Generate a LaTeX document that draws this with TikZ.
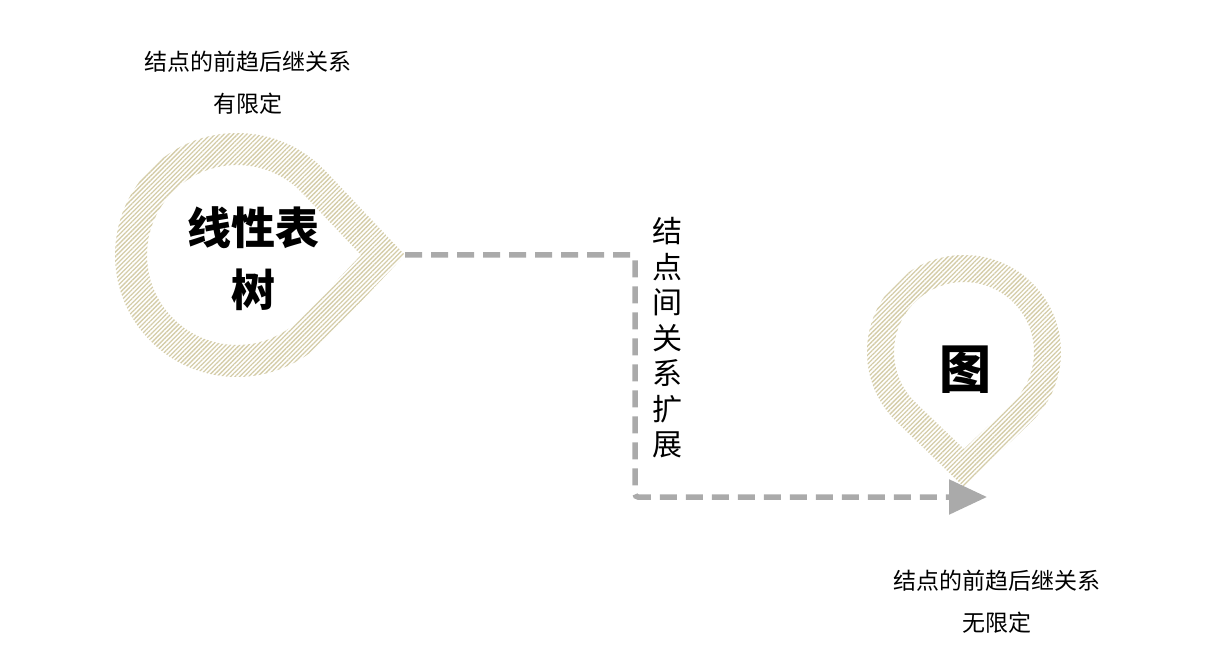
\documentclass[tikz,border=0pt]{standalone}
\usepackage{fontspec}
\setmainfont{Noto Sans CJK SC}
\usetikzlibrary{patterns.meta,arrows.meta}
\definecolor{beige}{RGB}{212,204,168}
\definecolor{dgray}{RGB}{170,170,170}
\tikzset{
  ring/.style={even odd rule, draw=none, pattern={Lines[angle=45,distance=3.2pt,line width=1.3pt]}, pattern color=beige},
  lab/.style={font=\fontsize{23}{42}\selectfont, align=center},
  conn/.style={draw=dgray, line width=5.5pt, dash pattern=on 17pt off 9pt, rounded corners=3pt}
}
\begin{document}
\begin{tikzpicture}[x=1pt,y=1pt]
\useasboundingbox (0,0) rectangle (1232,657);
% left teardrop
\coordinate (cl) at (237,402);
\coordinate (tl) at (405,402);
\path[ring] (cl) ++(43.4:122) arc[start angle=43.4,end angle=316.6,radius=122] -- (tl) -- cycle
  (cl) ++(43.5:90) arc[start angle=43.5,end angle=316.5,radius=90] -- (361,402) -- cycle;
% right teardrop
\coordinate (cr) at (964,305);
\coordinate (tr) at (964,170);
\path[ring] (cr) ++(-46:97) arc[start angle=-46,end angle=226,radius=97] -- (tr) -- cycle
  (cr) ++(-46.2:70) arc[start angle=-46.2,end angle=226.2,radius=70] -- (964,208) -- cycle;
% texts
\node[lab] (t1) at (248,574) {结点的前趋后继关系\\有限定};
\node[lab] (t2) at (997,55) {结点的前趋后继关系\\无限定};
\node[font=\fontsize{44}{62}\selectfont\bfseries, align=center] (a) at (253,398) {线性表\\树};
\node[font=\fontsize{52}{60}\selectfont\bfseries] (b) at (965,287) {图};
\node[font=\fontsize{30}{35.5}\selectfont, align=center] (v) at (667,319) {结\\点\\间\\关\\系\\扩\\展};
% connector
\coordinate (e) at (987,160);
\draw[conn, -{Triangle[length=38pt,width=34pt,fill=dgray]}] (tl) -- (635,402) -- (635,160) -- (e);
\end{tikzpicture}
\end{document}
